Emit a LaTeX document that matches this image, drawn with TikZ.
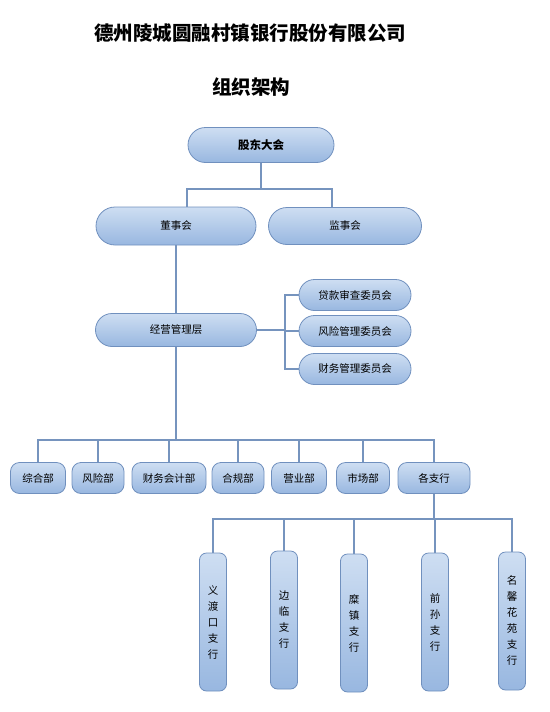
\documentclass[tikz,border=0pt]{standalone}
\usepackage{fontspec}
\setmainfont{Noto Sans CJK SC}
\usetikzlibrary{shapes.misc}
\definecolor{boxtop}{RGB}{206,222,242}
\definecolor{boxbot}{RGB}{152,183,224}
\definecolor{boxline}{RGB}{112,144,190}
\definecolor{linkcol}{RGB}{118,148,190}

\begin{document}
\begin{tikzpicture}
  [x=1pt, y=-1pt,
   every node/.style={inner sep=1pt, font=\fontsize{10.5}{13}\selectfont},
   pill/.style={rounded rectangle, draw=boxline, line width=0.8pt, top color=boxtop, bottom color=boxbot, minimum height=31pt},
   unit/.style={rectangle, rounded corners=9pt, draw=boxline, line width=0.8pt, top color=boxtop, bottom color=boxbot, minimum height=31pt},
   branch/.style={rectangle, rounded corners=7pt, draw=boxline, line width=0.8pt, top color=boxtop, bottom color=boxbot, minimum width=27pt, minimum height=138pt, align=center, font=\fontsize{10.5}{16}\selectfont},
   heading/.style={font=\fontsize{19.5}{22}\selectfont\bfseries},
   link/.style={draw=linkcol, line width=1.3pt}]
  \useasboundingbox (0,0) rectangle (549,712);
  \node [heading] (title) at (250,33) {德州陵城圆融村镇银行股份有限公司};
  \node [heading] (sub) at (251,87) {组织架构};
  \node [pill, minimum width=148pt, minimum height=35pt, font=\fontsize{11.5}{13}\selectfont\bfseries] (gd) at (261,145) {股东大会};
  \node [pill, minimum width=162pt, minimum height=38pt] (dsh) at (176,226) {董事会};
  \node [pill, minimum width=155pt, minimum height=37pt] (jsh) at (345,226) {监事会};
  \node [pill, minimum width=163pt, minimum height=33pt] (jy) at (176,330) {经营管理层};
  \node [pill, minimum width=114pt] (dk) at (355,295) {贷款审查委员会};
  \node [pill, minimum width=114pt] (fx) at (355,331) {风险管理委员会};
  \node [pill, minimum width=114pt] (cwk) at (355,369) {财务管理委员会};
  \node [unit, minimum width=55pt] (zhb) at (38,478) {综合部};
  \node [unit, minimum width=52pt] (fxb) at (98,478) {风险部};
  \node [unit, minimum width=74pt] (cwb) at (169,478) {财务会计部};
  \node [unit, minimum width=52pt] (hgb) at (238,478) {合规部};
  \node [unit, minimum width=55pt] (yyb) at (299,478) {营业部};
  \node [unit, minimum width=53pt] (scb) at (363,478) {市场部};
  \node [unit, minimum width=72pt] (gzh) at (434,478) {各支行};
  \node [branch] (b1) at (213,622) {义\\渡\\口\\支\\行};
  \node [branch] (b2) at (284,620) {边\\临\\支\\行};
  \node [branch] (b3) at (354,623) {糜\\镇\\支\\行};
  \node [branch] (b4) at (435,622) {前\\孙\\支\\行};
  \node [branch] (b5) at (512,621) {名\\馨\\花\\苑\\支\\行};
  \coordinate (j1) at (261,189);
  \coordinate (j2) at (285,330);
  \coordinate (j3) at (176,440);
  \coordinate (j4) at (434,519);
  \draw [link] (gd.south) -- (j1);
  \draw [link] ([xshift=11pt]dsh.north) |- (j1) -| ([xshift=-13pt]jsh.north);
  \draw [link] (dsh.south) -- (jy.north);
  \draw [link] (jy.east) -- (j2);
  \draw [link] (dk.west) -| (j2) |- (cwk.west);
  \draw [link] (fx.west) -- (fx.west -| j2);
  \draw [link] (jy.south) -- (j3);
  \foreach \d in {zhb,fxb,cwb,hgb,yyb,scb,gzh}
    \draw [link] (\d.north) |- (j3);
  \draw [link] (gzh.south) -- (j4);
  \foreach \b in {b1,b2,b3,b4,b5}
    \draw [link] (\b.north) |- (j4);
\end{tikzpicture}
\end{document}
